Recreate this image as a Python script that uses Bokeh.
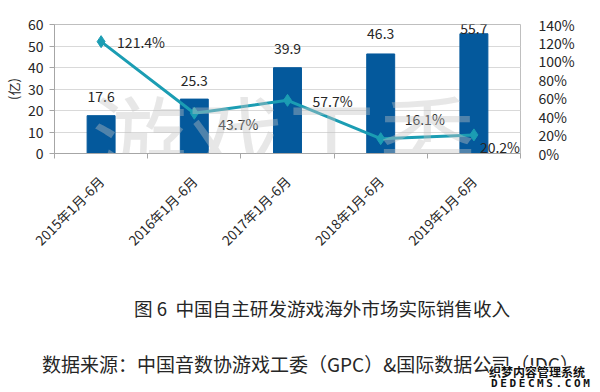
from math import pi
from bokeh.plotting import figure
from bokeh.layouts import column
from bokeh.models import (Range1d, LinearAxis, FixedTicker, Div,
                          PrintfTickFormatter, ColumnDataSource, LabelSet, Label)
from bokeh.core.properties import value
from bokeh.embed import file_html
from bokeh.resources import INLINE

# ---- data ----
categories = ["2015年1月-6月", "2016年1月-6月", "2017年1月-6月", "2018年1月-6月", "2019年1月-6月"]
revenue = [17.6, 25.3, 39.9, 46.3, 55.7]           # 亿
growth = [121.4, 43.7, 57.7, 16.1, 20.2]           # %
left_ticks = [0, 10, 20, 30, 40, 50, 60]
right_ticks = [0, 20, 40, 60, 80, 100, 120, 140]
caption = "图 6&nbsp;&nbsp;中国自主研发游戏海外市场实际销售收入"
source_note = "数据来源：中国音数协游戏工委（GPC）&amp;国际数据公司（IDC）"

# ---- label offsets (style, in px) ----
bar_label_dy = [19, 19, 19, 20, 5]
pct_label_dx = [16, 24, 25, 24, 6]
pct_label_dy = [0, -11, -1, 20, -12]

FONT = "Noto Sans CJK SC"
BAR = "#04599c"
LINE = "#1b9db3"
TXT = "#262626"

n = len(categories)
xpos = [i + 0.5 for i in range(n)]   # category centres on a 0..n axis

p = figure(width=584, height=272, x_range=Range1d(0, n), y_range=Range1d(0, 60),
           output_backend="svg", toolbar_location=None, x_axis_location=None,
           min_border_left=48, min_border_right=64, min_border_top=24, min_border_bottom=119)
p.extra_y_ranges = {"pct": Range1d(0, 140)}
p.outline_line_color = "#bfbfbf"
p.background_fill_color = "white"
p.border_fill_color = "white"
p.xgrid.visible = False
p.ygrid.grid_line_color = "#d9d9d9"
p.ygrid.ticker = FixedTicker(ticks=left_ticks)

# left axis
ya = p.yaxis[0]
ya.ticker = FixedTicker(ticks=left_ticks)
ya.axis_label = "(亿)"
ya.axis_label_text_font = FONT
ya.axis_label_text_font_style = "normal"
ya.axis_label_text_font_size = "13px"
ya.axis_label_text_color = TXT
ya.axis_label_standoff = 2
ya.major_label_text_font = FONT
ya.major_label_text_font_size = "14px"
ya.major_label_text_color = TXT
ya.axis_line_color = "#a6a6a6"
ya.major_tick_line_color = "#a6a6a6"
ya.major_tick_in = 0
ya.major_tick_out = 5
ya.minor_tick_line_color = None
ya.major_label_standoff = 6

# right axis
ra = LinearAxis(y_range_name="pct", ticker=FixedTicker(ticks=right_ticks),
                formatter=PrintfTickFormatter(format="%d%%"))
ra.major_label_text_font = FONT
ra.major_label_text_font_size = "14px"
ra.major_label_text_color = TXT
ra.axis_line_color = None
ra.major_tick_line_color = None
ra.minor_tick_line_color = None
ra.major_label_standoff = 12
p.add_layout(ra, "right")

# bottom axis: labels at category centres, tick marks (minor) at category edges
xa = LinearAxis(ticker=FixedTicker(ticks=xpos, minor_ticks=list(range(n + 1))),
                major_label_overrides={x: c for x, c in zip(xpos, categories)})
xa.axis_line_color = "#a6a6a6"
xa.major_tick_line_color = None
xa.major_tick_in = 0
xa.major_tick_out = 0
xa.minor_tick_line_color = "#a6a6a6"
xa.minor_tick_in = 0
xa.minor_tick_out = 5
xa.major_label_orientation = pi / 4
xa.major_label_text_font = FONT
xa.major_label_text_font_size = "13.5px"
xa.major_label_text_color = TXT
xa.major_label_standoff = 20
p.add_layout(xa, "below")

src = ColumnDataSource(dict(x=xpos, rev=revenue, gr=growth,
                            rev_txt=[f"{v:.1f}" for v in revenue],
                            gr_txt=[f"{v:.1f}%" for v in growth],
                            bdy=bar_label_dy, pdx=pct_label_dx, pdy=pct_label_dy))
# bars
p.vbar(x="x", top="rev", width=0.3, color=BAR, source=src)

# growth line
p.line(x="x", y="gr", y_range_name="pct", line_width=3, line_color=LINE, source=src)
p.scatter(x="x", y="gr", y_range_name="pct", marker="diamond", size=12,
          fill_color=LINE, line_color=LINE, source=src)

# value labels
p.add_layout(LabelSet(x="x", y="rev", text="rev_txt", source=src, y_offset="bdy",
                      text_align="center", text_baseline="middle",
                      text_font=value(FONT), text_font_size="14px", text_color=TXT))
p.add_layout(LabelSet(x="x", y="gr", text="gr_txt", source=src, y_range_name="pct",
                      x_offset="pdx", y_offset="pdy",
                      text_align="left", text_baseline="middle",
                      text_font=value(FONT), text_font_size="14px", text_color=TXT))

# watermark
p.add_layout(Label(x=229, y=18, x_units="screen", y_units="screen", text="游戏工委",
                   text_align="center", text_baseline="middle", text_font=FONT,
                   text_font_size="96px", text_color="#c4c4c4", text_alpha=0.4))

# ---- caption / source panel (HTML text) ----
html = f"""
<div style="position:relative;width:584px;height:112px;font-family:'{FONT}';color:{TXT};white-space:nowrap;">
  <div style="position:absolute;left:129px;top:22px;font-size:18.6px;line-height:18px;">{caption}</div>
  <div style="position:absolute;left:37px;top:77px;font-size:19px;line-height:19px;">{source_note}</div>
  <div style="position:absolute;left:484px;top:89px;font-size:12px;line-height:12px;font-weight:bold;color:#111;
              text-shadow:1px 0 #fff,-1px 0 #fff,0 1px #fff,0 -1px #fff;">织梦内容管理系统</div>
  <div style="position:absolute;left:486px;top:101px;font-size:11px;line-height:11px;font-weight:bold;color:#111;
              font-family:'DejaVu Sans Mono';letter-spacing:2.6px;
              text-shadow:1px 0 #fff,-1px 0 #fff,0 1px #fff,0 -1px #fff;">DEDECMS.COM</div>
</div>
"""
d = Div(text=html, width=584, height=112)

open("out.html", "w").write(file_html(column(p, d, spacing=0), INLINE))
